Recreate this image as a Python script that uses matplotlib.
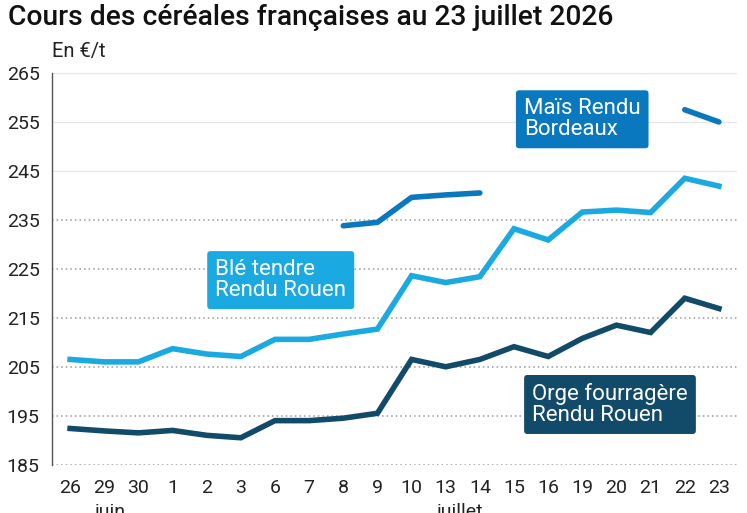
import numpy as np
import matplotlib.pyplot as plt

# Dates (jours de cotation)
jours = ['26', '29', '30', '1', '2', '3', '6', '7', '8', '9', '10',
         '13', '14', '15', '16', '19', '20', '21', '22', '23']

# Prix en €/t
ble = [206.5, 206.0, 206.0, 208.7, 207.6, 207.1, 210.6, 210.6, 211.7, 212.7,
       223.6, 222.2, 223.4, 233.2, 230.9, 236.6, 237.0, 236.5, 243.5, 241.9]
orge = [192.4, 191.9, 191.5, 192.0, 191.0, 190.5, 194.0, 194.0, 194.5, 195.5,
        206.5, 205.0, 206.5, 209.1, 207.1, 210.8, 213.5, 212.0, 219.0, 216.9]
nan = np.nan
mais = [nan, nan, nan, nan, nan, nan, nan, nan, 233.8, 234.5,
        239.6, 240.1, 240.5, nan, nan, nan, nan, nan, 257.5, 255.0]

ticks_y = [185, 195, 205, 215, 225, 235, 245, 255, 265]

c_ble = '#1aa9e1'
c_mais = '#0a78be'
c_orge = '#124b6a'

plt.rcParams['font.family'] = ['Roboto', 'DejaVu Sans']

fig = plt.figure(figsize=(7.47, 5.13), dpi=100)
ax = fig.add_axes([52 / 747, 48.3 / 513, 685 / 747, 391.7 / 513])

x = np.arange(len(jours))

# Grille
for v in ticks_y:
    if v <= 235:
        ax.axhline(v, color='#9a9a9a', lw=1.1, ls=(0, (1, 2)), zorder=1)
    else:
        ax.axhline(v, color='#e6e6e6', lw=1, zorder=1)

ax.plot(x, ble, color=c_ble, lw=4, solid_joinstyle='miter', zorder=3)
ax.plot(x, orge, color=c_orge, lw=4, solid_joinstyle='miter', zorder=3)
ax.plot(x, mais, color=c_mais, lw=4, solid_capstyle='round', zorder=3)

ax.set_xlim(-0.53, 19.53)
ax.set_ylim(185, 265)
ax.set_xticks(x)
ax.set_xticklabels(jours)
ax.set_yticks(ticks_y)

for s in ['top', 'right', 'bottom']:
    ax.spines[s].set_visible(False)
ax.spines['left'].set_color('#555555')
ax.spines['left'].set_linewidth(1)

ax.tick_params(axis='x', length=0, pad=10, labelsize=14, labelcolor='#222222')
ax.tick_params(axis='y', length=0, pad=9, labelsize=14, labelcolor='#222222')

# Étiquettes des séries
boite = dict(boxstyle='round,pad=0.36,rounding_size=0.15', lw=0)
ax.text(4.25, 222.7, 'Blé tendre\nRendu Rouen', color='white', fontsize=16,
        va='center', ha='left', linespacing=1.0,
        bbox=dict(boite, fc=c_ble), zorder=4)
ax.text(13.29, 255.55, 'Maïs Rendu\nBordeaux', color='white', fontsize=16,
        va='center', ha='left', linespacing=1.0,
        bbox=dict(boite, fc=c_mais), zorder=4)
ax.text(13.53, 197.3, 'Orge fourragère\nRendu Rouen', color='white', fontsize=16,
        va='center', ha='left', linespacing=1.0,
        bbox=dict(boite, fc=c_orge), zorder=4)

# Mois
ax.text(0.73, -0.098, 'juin', transform=ax.get_xaxis_transform(),
        fontsize=14, color='#222222', ha='left', va='top')
ax.text(10.73, -0.098, 'juillet', transform=ax.get_xaxis_transform(),
        fontsize=14, color='#222222', ha='left', va='top')

fig.text(8 / 747, 1 - 25 / 513, 'Cours des céréales françaises au 23 juillet 2026',
         fontsize=20.3, fontweight='medium', color='#111111', va='baseline', ha='left')
fig.text(52 / 747, 1 - 57.5 / 513, 'En €/t', fontsize=14.5, color='#222222',
         va='baseline', ha='left')

fig.savefig('out.png', dpi=100)
